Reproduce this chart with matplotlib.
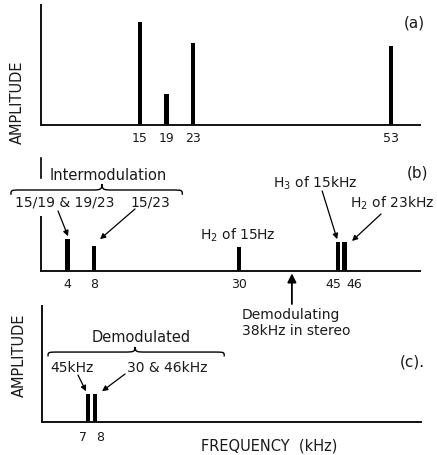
import matplotlib
matplotlib.use("Agg")
import matplotlib.pyplot as plt
from matplotlib.path import Path
from matplotlib.patches import PathPatch
from matplotlib.transforms import ScaledTranslation

# ---- data ----
freqs_a = [15, 19, 23, 53]
amps_a = [0.86, 0.26, 0.68, 0.66]
labels_a = ["15", "19", "23", "53"]

freqs_b = [4, 8, 30, 45, 46]
amps_b = [0.265, 0.21, 0.20, 0.24, 0.24]
labels_b = ["4", "8", "30", "45", "46"]

freqs_c = [7, 8]
amps_c = [0.24, 0.24]
labels_c = ["7", "8"]

demod_carrier = 38

plt.rcParams['font.family'] = ['DejaVu Sans']
TXT = '#1a1a1a'

W, H = 437, 456
fig = plt.figure(figsize=(W / 100, H / 100), dpi=100)
fig.patch.set_facecolor('white')


def add_ax(l, t, r, b):
    return fig.add_axes([l / W, 1 - b / H, (r - l) / W, (b - t) / H])


def style(ax, freqs, labels, pad, shifts=None):
    ax.set_xlim(0, 57.4)
    ax.set_ylim(0, 1)
    for s in ('top', 'right'):
        ax.spines[s].set_visible(False)
    for s in ('left', 'bottom'):
        ax.spines[s].set_linewidth(1.4)
        ax.spines[s].set_color('#111111')
    ax.set_yticks([])
    ax.set_xticks(freqs)
    ax.set_xticklabels(labels, fontsize=9, color=TXT)
    ax.tick_params(axis='x', length=0, pad=pad)
    ax.patch.set_alpha(0)
    if shifts:
        for lab, dx in zip(ax.get_xticklabels(), shifts):
            lab.set_transform(lab.get_transform() +
                              ScaledTranslation(dx / 100, 0, fig.dpi_scale_trans))


def brace(ax, x0, x1, xm, y, tip, end, r):
    verts = [(x0, end), (x0, y), (x0, y), (x0 + r, y),
             (xm - r, y),
             (xm - 0.2 * r, y), (xm, y), (xm, tip),
             (xm, y), (xm + 0.2 * r, y), (xm + r, y),
             (x1 - r, y),
             (x1, y), (x1, y), (x1, end)]
    codes = [Path.MOVETO, Path.CURVE4, Path.CURVE4, Path.CURVE4,
             Path.LINETO,
             Path.CURVE4, Path.CURVE4, Path.CURVE4,
             Path.CURVE4, Path.CURVE4, Path.CURVE4,
             Path.LINETO,
             Path.CURVE4, Path.CURVE4, Path.CURVE4]
    p = PathPatch(Path(verts, codes), fill=False, lw=1.0, color='k',
                  transform=ax.get_xaxis_transform(), clip_on=False)
    ax.add_patch(p)


def arrow(ax, xy, xytext, ms=8, lw=0.9):
    ax.annotate('', xy=xy, xytext=xytext, xycoords=ax.get_xaxis_transform(),
                textcoords=ax.get_xaxis_transform(),
                arrowprops=dict(arrowstyle='-|>', lw=lw, color='k',
                                mutation_scale=ms, shrinkA=0, shrinkB=0),
                annotation_clip=False)


def txt(ax, x, y, s, size=10):
    ax.text(x, y, s, transform=ax.get_xaxis_transform(), ha='left',
            va='center', fontsize=size, color=TXT, clip_on=False)


# ---- panel (a) ----
axa = add_ax(41, 6, 420, 126)
style(axa, freqs_a, labels_a, 4)
axa.bar(freqs_a, amps_a, width=0.7, color='k')
txt(axa, 55.0, 0.86, '(a)', 11)

# ---- panel (b) ----
axb = add_ax(41, 152, 420, 272)
style(axb, freqs_b, labels_b, 4, shifts=[0, 0, 0, -5, 10])
axb.spines['left'].set_bounds(0, 0.45)
axb.axvline(0, ymin=0.775, ymax=0.942, lw=1.2, color='k', clip_on=False)
axb.bar(freqs_b, amps_b, width=0.7, color='k')

txt(axb, 1.36, 0.80, 'Intermodulation', 10.5)
brace(axb, -4.55, 21.4, 9.24, 0.675, 0.725, 0.635, 1.6)
txt(axb, -3.94, 0.583, '15/19 & 19/23', 10)
txt(axb, 13.5, 0.583, '15/23', 10)
arrow(axb, (4.09, 0.29), (2.58, 0.50))
arrow(axb, (8.94, 0.265), (14.24, 0.517))
txt(axb, 24.1, 0.308, 'H$_2$ of 15Hz', 10)
txt(axb, 35.15, 0.742, 'H$_3$ of 15kHz', 10)
arrow(axb, (44.85, 0.265), (42.58, 0.667))
txt(axb, 46.8, 0.575, 'H$_2$ of 23kHz', 10)
arrow(axb, (47.1, 0.25), (51.5, 0.475))
txt(axb, 55.4, 0.825, '(b)', 11)
arrow(axb, (demod_carrier, -0.02), (demod_carrier, -0.275), ms=13, lw=1.3)
txt(axb, 30.45, -0.358, 'Demodulating', 10)
txt(axb, 30.45, -0.492, '38kHz in stereo', 10)

# ---- panel (c) ----
axc = add_ax(42, 307, 421, 423)
style(axc, freqs_c, labels_c, 6, shifts=[-5, 5])
axc.bar(freqs_c, amps_c, width=0.65, color='k')
txt(axc, 7.58, 0.733, 'Demodulated', 10.5)
brace(axc, 0.91, 27.6, 14.1, 0.603, 0.647, 0.565, 1.6)
txt(axc, 1.21, 0.474, '45kHz', 10)
txt(axc, 12.9, 0.474, '30 & 46kHz', 10)
arrow(axc, (6.67, 0.265), (5.45, 0.405))
arrow(axc, (9.09, 0.265), (12.58, 0.414))
txt(axc, 54.2, 0.526, '(c).', 11)

# ---- shared labels ----
fig.text(17 / W, 1 - 102 / H, 'AMPLITUDE', rotation=90, ha='center',
         va='center', fontsize=10.5, color=TXT)
fig.text(19 / W, 1 - 355 / H, 'AMPLITUDE', rotation=90, ha='center',
         va='center', fontsize=10.5, color=TXT)
fig.text(269 / W, 1 - 446 / H, 'FREQUENCY  (kHz)', ha='center',
         va='center', fontsize=10.5, color=TXT)

fig.savefig('out.png', dpi=100, facecolor='white')
